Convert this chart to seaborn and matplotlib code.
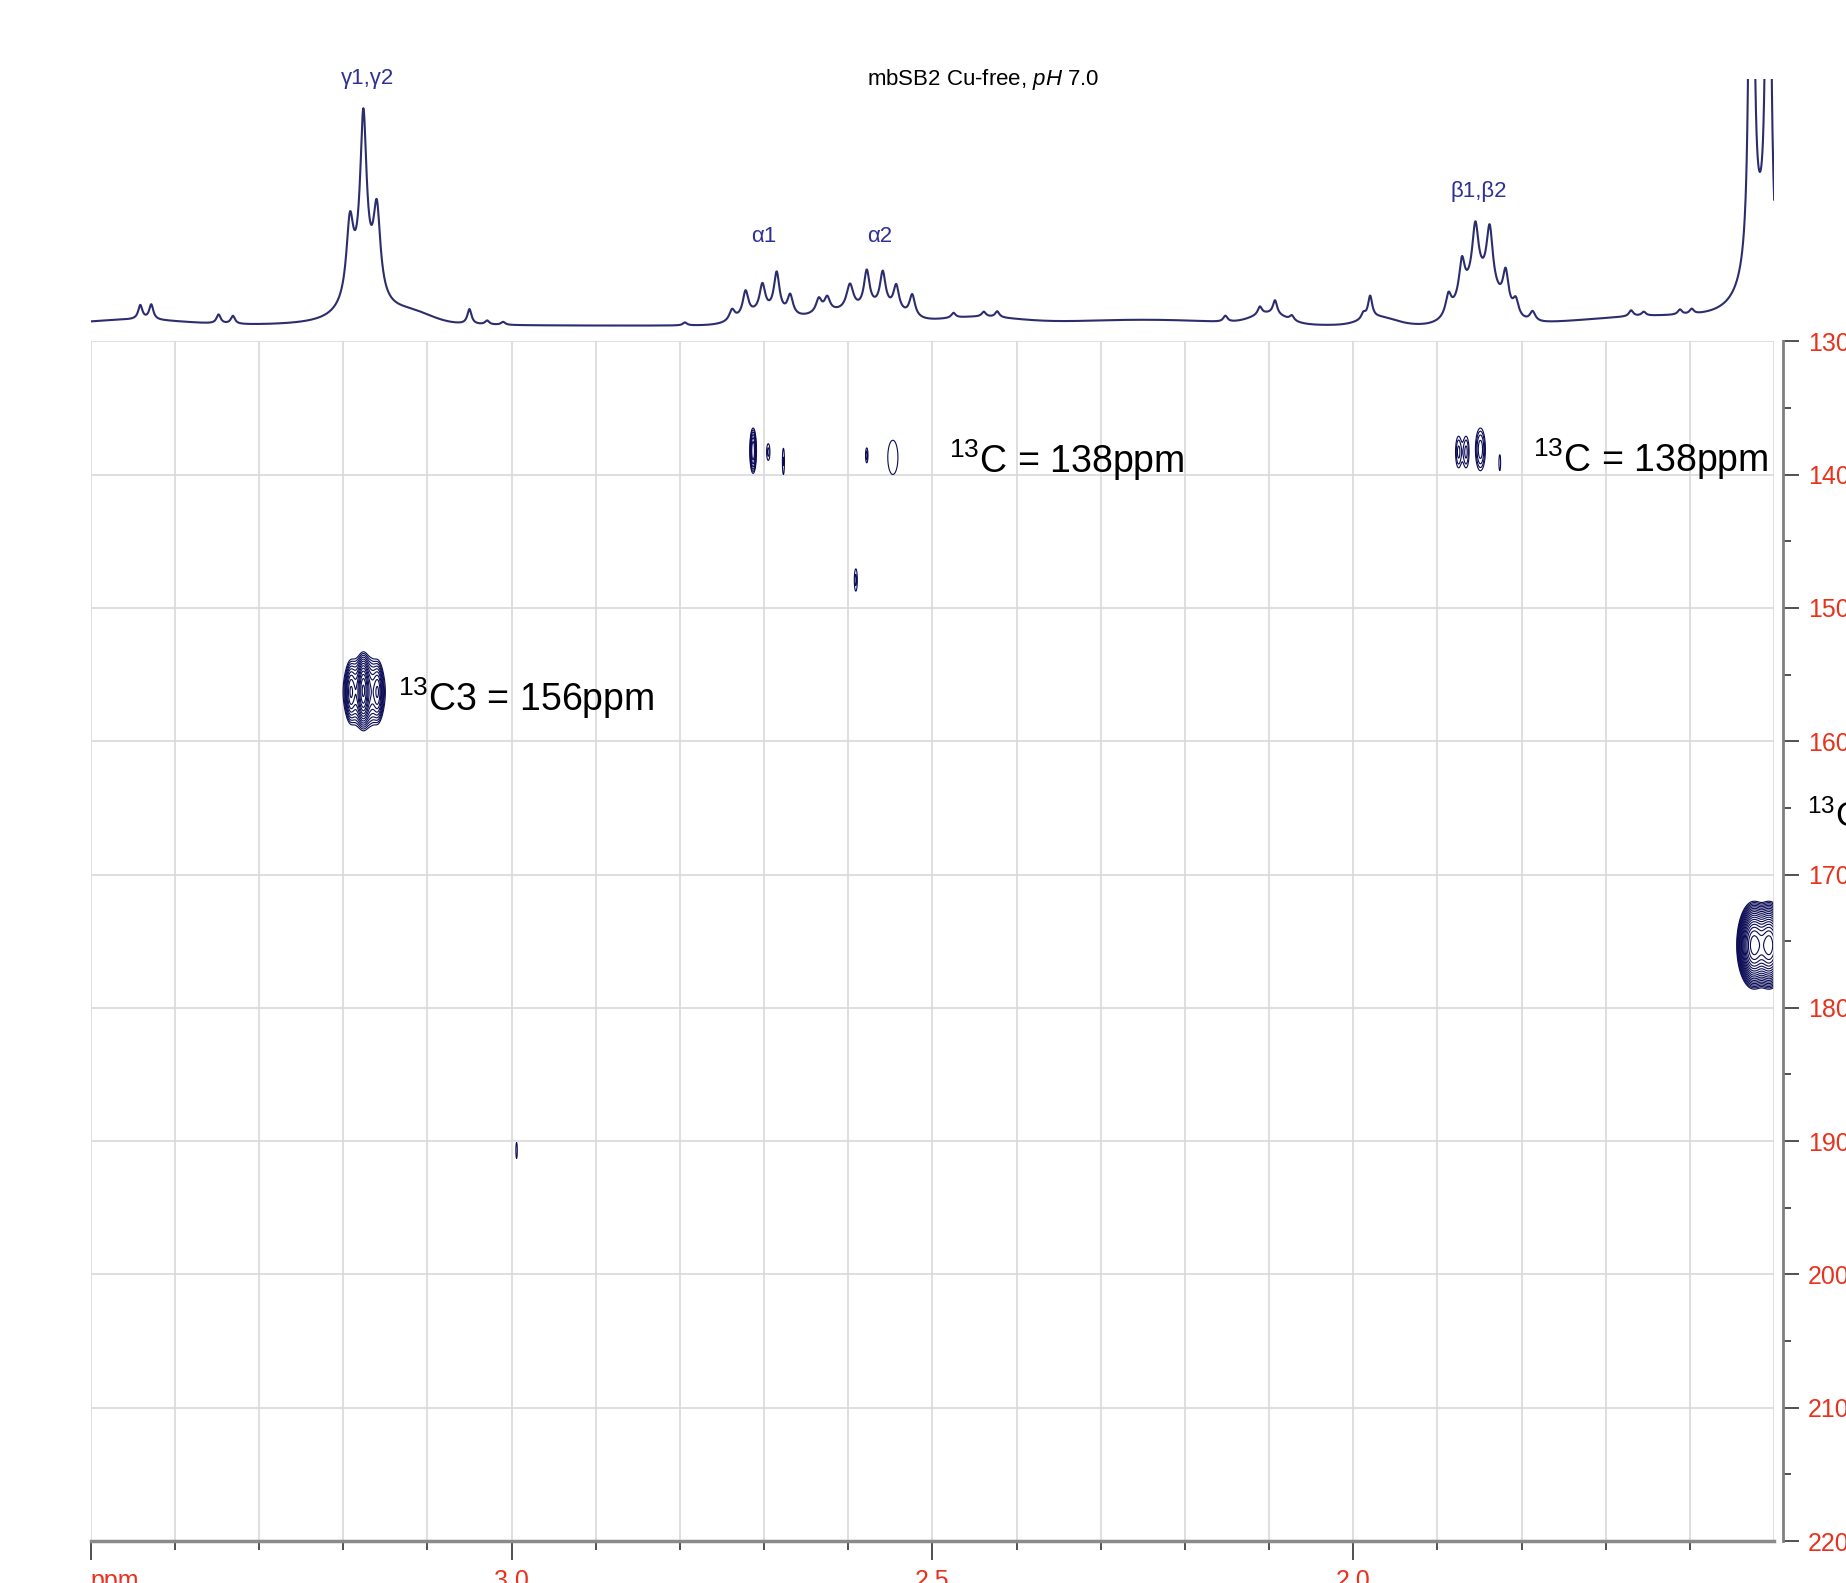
import numpy as np
import matplotlib
matplotlib.use("Agg")
import matplotlib.pyplot as plt
import seaborn as sns

# 1D proton trace: Lorentzian lines (ppm, height, half width)
line_ppm = [3.441, 3.428, 3.348, 3.331,
            3.192, 3.176, 3.160, 3.176,
            3.050, 3.029, 3.010, 2.794,
            2.738, 2.722, 2.702, 2.685, 2.669, 2.635, 2.625, 2.598, 2.578, 2.559, 2.543, 2.524,
            2.475, 2.439, 2.423, 2.152, 2.111, 2.093, 2.073, 1.988, 1.980,
            1.887, 1.871, 1.855, 1.838, 1.819, 1.807, 1.787,
            1.670, 1.655, 1.612, 1.598,
            1.527, 1.507, 1.517]
line_height = [14, 15, 9, 8,
               73, 158, 83, 45,
               15, 4, 3, 3,
               11, 25, 27, 40, 20, 14, 14, 26, 37, 35, 25, 22,
               5, 5, 6, 6, 8, 14, 5, 6, 22,
               20, 37, 58, 60, 36, 16, 10,
               6, 4, 5, 5,
               1000, 1000, 75]
line_width = [0.003, 0.003, 0.003, 0.003,
              0.005, 0.0045, 0.005, 0.02,
              0.003, 0.003, 0.003, 0.003,
              0.004, 0.004, 0.004, 0.004, 0.004, 0.004, 0.004, 0.005, 0.004, 0.004, 0.004, 0.004,
              0.003, 0.003, 0.003, 0.003, 0.003, 0.003, 0.003, 0.003, 0.003,
              0.004, 0.004, 0.0045, 0.0045, 0.004, 0.004, 0.004,
              0.003, 0.003, 0.003, 0.003,
              0.002, 0.002, 0.02]
# broad baseline humps (ppm, height, sigma)
hump_ppm = [3.45, 3.12, 2.70, 2.62, 2.56, 2.45, 2.25, 2.10, 1.97, 1.85, 1.65]
hump_height = [6, 10, 12, 12, 14, 8, 6, 10, 8, 40, 8]
hump_sigma = [0.06, 0.025, 0.025, 0.03, 0.025, 0.05, 0.1, 0.02, 0.02, 0.022, 0.08]
baseline = 9

# 2D cross peaks: 1H ppm, 13C ppm, amplitude, width in 1H, width in 13C
pk_h = [3.175, 3.191, 3.176, 3.159,
        2.713, 2.695, 2.677, 2.578, 2.547, 2.591,
        1.875, 1.866, 1.849, 1.826,
        1.524, 1.506, 2.994]
pk_c = [156.3, 156.3, 156.2, 156.3,
        138.2, 138.3, 139.0, 138.55, 138.7, 147.9,
        138.3, 138.3, 138.1, 139.1,
        175.3, 175.3, 190.7]
pk_amp = [10, 8, 30, 8,
          6, 1.5, 1.4, 1.6, 1.3, 1.5,
          2, 2, 3, 1.3,
          150, 150, 1.3]
pk_sh = [0.0115, 0.003, 0.003, 0.003,
         0.0021, 0.0022, 0.0015, 0.0015, 0.0083, 0.002,
         0.003, 0.003, 0.004, 0.0014,
         0.0065, 0.0065, 0.0012]
pk_sc = [1.26, 1.0, 1.0, 1.0,
         0.9, 0.7, 1.2, 0.58, 1.77, 0.93,
         1.0, 1.0, 1.08, 0.83,
         1.04, 1.04, 0.83]

labels_1d = ["γ1,γ2", "α1", "α2", "β1,β2"]
labels_ppm = [3.171, 2.700, 2.563, 1.851]
labels_int = [256, 98, 98, 143]

notes = ["$^{13}$C = 138ppm", "$^{13}$C = 138ppm", "$^{13}$C3 = 156ppm"]
notes_h = [2.480, 1.787, 3.135]
notes_c = [139.9, 139.8, 157.7]

x_major = [3.5, 3.0, 2.5, 2.0]
x_major_lab = ["ppm", "3.0", "2.5", "2.0"]

sns.set_style("white")
plt.rcParams["font.family"] = ["Liberation Sans", "DejaVu Sans"]
plt.rcParams["mathtext.fontset"] = "custom"
plt.rcParams["mathtext.rm"] = "Liberation Sans"
plt.rcParams["mathtext.it"] = "Liberation Sans:italic"
plt.rcParams["text.color"] = "black"

red = "#e8321e"
navy = "#2b2d6e"
blue = "#2e3192"
grid_c = "#d9d9d9"

fig = plt.figure(figsize=(18.46, 15.83), dpi=100)

# ---- 1D spectrum on top
ppm = np.linspace(3.5, 1.5, 6000)
spec = np.full_like(ppm, baseline, dtype=float)
for p, h, w in zip(line_ppm, line_height, line_width):
    spec += h / (1 + ((ppm - p) / w) ** 2)
for p, h, s in zip(hump_ppm, hump_height, hump_sigma):
    spec += h * np.exp(-(ppm - p) ** 2 / (2 * s ** 2))

ax1 = fig.add_axes([0.0491, 0.7884, 0.912, 0.1617])
sns.lineplot(x=ppm, y=spec, ax=ax1, color=navy, lw=1.5, estimator=None, sort=False)
ax1.set_xlim(3.5, 1.5)
ax1.set_ylim(0, 256)
ax1.axis("off")
for t, p, i in zip(labels_1d, labels_ppm, labels_int):
    ax1.text(p, i, t, color=blue, fontsize=16, ha="center", va="center", clip_on=False)
fig.text(0.5325, 1 - 79 / 1583, "mbSB2 Cu-free, $pH$ 7.0", fontsize=16, ha="center", va="center")

# ---- 2D HMBC contour map
ax = fig.add_axes([0.0491, 0.02653, 0.912, 0.7578])
xh = np.linspace(3.52, 1.48, 4100)
yc = np.linspace(128, 222, 941)
Z = np.zeros((yc.size, xh.size))
for h, c, a, sh, sc in zip(pk_h, pk_c, pk_amp, pk_sh, pk_sc):
    Z += a * np.outer(np.exp(-(yc - c) ** 2 / (2 * sc ** 2)), np.exp(-(xh - h) ** 2 / (2 * sh ** 2)))
levels = 1.0 * 1.35 ** np.arange(22)
ax.contour(xh, yc, Z, levels=levels, colors="#0b0b55", linewidths=0.8)

ax.set_xlim(3.5, 1.5)
ax.set_ylim(220, 130)
ax.set_xticks(x_major)
ax.set_xticklabels(x_major_lab)
ax.set_xticks(np.round(np.arange(3.4, 1.55, -0.1), 2), minor=True)
ax.yaxis.tick_right()
ax.set_yticks(range(130, 221, 10))
ax.set_yticks(range(135, 220, 10), minor=True)
ax.grid(True, which="both", axis="x", color=grid_c, lw=1.2)
ax.grid(True, which="major", axis="y", color=grid_c, lw=1.2)
ax.axvline(1.5, color=grid_c, lw=1.2)
ax.set_axisbelow(True)

for s in ["top", "left"]:
    ax.spines[s].set_visible(False)
ax.spines["right"].set_position(("outward", 6))
ax.spines["right"].set_color("#808080")
ax.spines["right"].set_linewidth(2)
ax.spines["bottom"].set_color("#8a8a8a")
ax.spines["bottom"].set_linewidth(2.5)

ax.tick_params(axis="x", which="major", direction="out", length=13.5, width=1.2, color="#333333",
               labelcolor=red, labelsize=18, pad=7, bottom=True)
ax.tick_params(axis="x", which="minor", direction="out", length=6.5, width=1.2, color="#333333", bottom=True)
ax.tick_params(axis="y", which="major", direction="out", length=11.5, width=1.2, color="#333333",
               labelcolor=red, labelsize=18, pad=7, right=True)
ax.tick_params(axis="y", which="minor", direction="out", length=5.8, width=1.2, color="#333333", right=True)
ax.get_xticklabels()[0].set_ha("left")

for t, h, c in zip(notes, notes_h, notes_c):
    ax.text(h, c, t, fontsize=27, ha="left", va="baseline", color="black")

fig.text(1807 / 1846, 1 - 815 / 1583, "$^{13}$C (ppm)", fontsize=25, ha="left", va="center", color="black")

fig.savefig("out.png", dpi=100)
